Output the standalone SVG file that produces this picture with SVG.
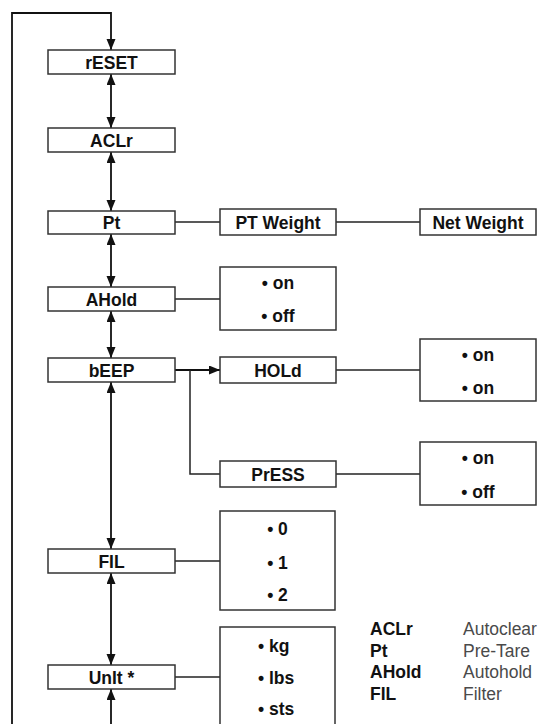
<svg xmlns="http://www.w3.org/2000/svg" width="541" height="724" viewBox="0 0 541 724">
<defs>
<marker id="ah" markerUnits="userSpaceOnUse" markerWidth="12" markerHeight="10" refX="11" refY="4.5" orient="auto-start-reverse">
<path d="M0,0 L11,4.5 L0,9 z" fill="#111"/>
</marker>
<style>
.box{fill:#fff;stroke:#333;stroke-width:1.5}
.t{font-family:"Liberation Sans",Arial,sans-serif;font-weight:bold;font-size:17.5px;fill:#111;text-anchor:middle}
.tl{font-family:"Liberation Sans",Arial,sans-serif;font-weight:bold;font-size:17.5px;fill:#111}
.d{font-family:"Liberation Sans",Arial,sans-serif;font-size:17.5px;fill:#4a4a4a}
.c{fill:none;stroke:#222;stroke-width:1.5}
.a{fill:none;stroke:#111;stroke-width:1.8;marker-start:url(#ah);marker-end:url(#ah)}
.a1{fill:none;stroke:#111;stroke-width:1.8;marker-end:url(#ah)}
</style>
</defs>
<g id="connectors">
<path class="a1" d="M12,724 V13 H111 V50"/>
<path class="a" d="M111,74 V128"/>
<path class="a" d="M111,152 V211"/>
<path class="a" d="M111,234 V287"/>
<path class="a" d="M111,311 V358"/>
<path class="a" d="M111,382 V549"/>
<path class="a" d="M111,573 V665"/>
<path class="a1" d="M111,724 V689"/>
<path class="c" d="M175,222 H220"/>
<path class="c" d="M336,222 H420"/>
<path class="c" d="M175,299 H220"/>
<path class="a1" d="M175,370 H220"/>
<path class="c" d="M190,370 V474 H220"/>
<path class="c" d="M336,370 H420"/>
<path class="c" d="M336,474 H420"/>
<path class="c" d="M175,561 H220"/>
<path class="c" d="M175,677 H220"/>
</g>
<g id="reset"><rect class="box" x="48" y="50" width="127" height="24"/><text class="t" x="111.5" y="68.5">rESET</text></g>
<g id="aclr"><rect class="box" x="48" y="128" width="127" height="24"/><text class="t" x="111.5" y="146.5">ACLr</text></g>
<g id="pt"><rect class="box" x="48" y="211" width="127" height="23"/><text class="t" x="111.5" y="229">Pt</text></g>
<g id="ptweight"><rect class="box" x="220" y="209" width="116" height="26"/><text class="t" x="278" y="228.5">PT Weight</text></g>
<g id="netweight"><rect class="box" x="420" y="209" width="116" height="26"/><text class="t" x="478" y="228.5">Net Weight</text></g>
<g id="ahold"><rect class="box" x="48" y="287" width="127" height="24"/><text class="t" x="111.5" y="305.5">AHold</text></g>
<g id="ahold-opts"><rect class="box" x="220" y="267" width="116" height="63"/><text class="t" x="278" y="289">• on</text><text class="t" x="278" y="322">• off</text></g>
<g id="beep"><rect class="box" x="48" y="358" width="127" height="24"/><text class="t" x="111.5" y="376.5">bEEP</text></g>
<g id="hold"><rect class="box" x="220" y="357" width="116" height="26"/><text class="t" x="278" y="376.5">HOLd</text></g>
<g id="hold-opts"><rect class="box" x="420" y="339" width="116" height="62"/><text class="t" x="478" y="361">• on</text><text class="t" x="478" y="394">• on</text></g>
<g id="press"><rect class="box" x="220" y="461" width="116" height="26"/><text class="t" x="278" y="480.5">PrESS</text></g>
<g id="press-opts"><rect class="box" x="420" y="442" width="116" height="63"/><text class="t" x="478" y="464">• on</text><text class="t" x="478" y="498">• off</text></g>
<g id="fil"><rect class="box" x="48" y="549" width="127" height="24"/><text class="t" x="111.5" y="567.5">FIL</text></g>
<g id="fil-opts"><rect class="box" x="220" y="511" width="115" height="99"/><text class="t" x="277.5" y="535">• 0</text><text class="t" x="277.5" y="569">• 1</text><text class="t" x="277.5" y="601">• 2</text></g>
<g id="unit"><rect class="box" x="48" y="665" width="127" height="24"/><text class="t" x="111.5" y="683.5">UnIt *</text></g>
<g id="unit-opts"><rect class="box" x="220" y="627" width="115" height="110"/><text class="tl" x="258" y="652">• kg</text><text class="tl" x="258" y="684">• lbs</text><text class="tl" x="258" y="715">• sts</text></g>
<g id="legend">
<text class="tl" x="370" y="634.5">ACLr</text><text class="d" x="463" y="634.5">Autoclear</text>
<text class="tl" x="370" y="656.5">Pt</text><text class="d" x="463" y="656.5">Pre-Tare</text>
<text class="tl" x="370" y="678">AHold</text><text class="d" x="463" y="678">Autohold</text>
<text class="tl" x="370" y="700">FIL</text><text class="d" x="463" y="700">Filter</text>
</g>
</svg>
